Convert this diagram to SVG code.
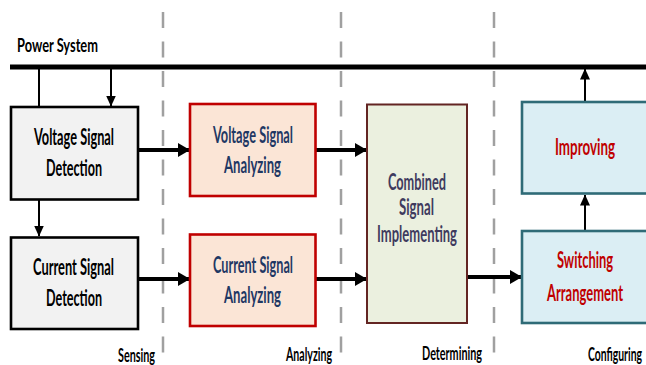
<svg xmlns="http://www.w3.org/2000/svg" width="646" height="365" viewBox="0 0 646 365">
<style>
text{font-family:Lato,"Open Sans","Liberation Sans",sans-serif;font-weight:bold}
.t{font-size:22.5px}
.l{font-size:19px;fill:#000}
.dash{stroke:#a0a0a0;stroke-width:2.5;stroke-dasharray:16 13.5;fill:none}
.thick{stroke:#000;stroke-width:4;fill:none}
.thin{stroke:#000;stroke-width:2;fill:none}
.det rect{fill:#f2f2f2;stroke:#000;stroke-width:2.6}
.ana rect{fill:#fbe5d6;stroke:#c00000;stroke-width:2.6}
.ana text{fill:#1f3864}
.comb rect{fill:#ebf0df;stroke:#632523;stroke-width:2}
.comb text{fill:#3f3b5e}
.cfg rect{fill:#dbeef4;stroke:#2f6b77;stroke-width:2.6}
.cfg text{fill:#c00000}
</style>
<defs>
<marker id="ah" markerUnits="userSpaceOnUse" markerWidth="12" markerHeight="14" viewBox="0 0 12 14" refX="11" refY="7" orient="auto">
<path d="M0,0 L12,7 L0,14 z" fill="#000"/>
</marker>
<marker id="ahs" markerUnits="userSpaceOnUse" markerWidth="11" markerHeight="10" viewBox="0 0 11 10" refX="10.5" refY="5" orient="auto">
<path d="M0,0 L11,5 L0,10 z" fill="#000"/>
</marker>
</defs>

<g id="phase-dividers">
<line class="dash" x1="163" y1="12" x2="163" y2="365"/>
<line class="dash" x1="341" y1="12" x2="341" y2="365"/>
<line class="dash" x1="494" y1="12" x2="494" y2="365"/>
</g>

<g id="power-system">
<text class="l" x="17" y="52" textLength="81" lengthAdjust="spacingAndGlyphs">Power System</text>
<line x1="10" y1="67" x2="646" y2="67" stroke="#000" stroke-width="5"/>
</g>

<g id="connectors">
<line class="thin" x1="39" y1="67" x2="39" y2="106"/>
<line class="thin" x1="111" y1="67" x2="111" y2="106" marker-end="url(#ahs)"/>
<line class="thin" x1="39" y1="200" x2="39" y2="236" marker-end="url(#ahs)"/>
<line class="thick" x1="139" y1="150" x2="189" y2="150" marker-end="url(#ah)"/>
<line class="thick" x1="139" y1="279" x2="189" y2="279" marker-end="url(#ah)"/>
<line class="thick" x1="316" y1="150" x2="366" y2="150" marker-end="url(#ah)"/>
<line class="thick" x1="316" y1="279" x2="366" y2="279" marker-end="url(#ah)"/>
<line class="thick" x1="468" y1="277" x2="521" y2="277" marker-end="url(#ah)"/>
<line class="thin" x1="585" y1="230" x2="585" y2="195" marker-end="url(#ahs)"/>
<line class="thin" x1="585" y1="101" x2="585" y2="69" marker-end="url(#ahs)"/>
</g>

<g id="voltage-signal-detection" class="det">
<rect x="11" y="107" width="127" height="92.5"/>
<text class="t" x="34" y="145" textLength="80" lengthAdjust="spacingAndGlyphs">Voltage Signal</text>
<text class="t" x="46" y="176" textLength="56" lengthAdjust="spacingAndGlyphs">Detection</text>
</g>

<g id="current-signal-detection" class="det">
<rect x="11" y="237.5" width="127" height="91.5"/>
<text class="t" x="33" y="275" textLength="81" lengthAdjust="spacingAndGlyphs">Current Signal</text>
<text class="t" x="46" y="306" textLength="56" lengthAdjust="spacingAndGlyphs">Detection</text>
</g>

<g id="voltage-signal-analyzing" class="ana">
<rect x="190" y="104" width="125.5" height="92"/>
<text class="t" x="213" y="143" textLength="80" lengthAdjust="spacingAndGlyphs">Voltage Signal</text>
<text class="t" x="224" y="173" textLength="57" lengthAdjust="spacingAndGlyphs">Analyzing</text>
</g>

<g id="current-signal-analyzing" class="ana">
<rect x="190" y="234.5" width="125.5" height="91.5"/>
<text class="t" x="213" y="273" textLength="80" lengthAdjust="spacingAndGlyphs">Current Signal</text>
<text class="t" x="224" y="303" textLength="57" lengthAdjust="spacingAndGlyphs">Analyzing</text>
</g>

<g id="combined-signal-implementing" class="comb">
<rect x="367" y="104.5" width="100" height="218.5"/>
<text class="t" x="388" y="190" textLength="58" lengthAdjust="spacingAndGlyphs">Combined</text>
<text class="t" x="399" y="215" textLength="35" lengthAdjust="spacingAndGlyphs">Signal</text>
<text class="t" x="377" y="242" textLength="80" lengthAdjust="spacingAndGlyphs">Implementing</text>
</g>

<g id="improving" class="cfg">
<rect x="522" y="102" width="126" height="91.5"/>
<text class="t" x="555" y="155" textLength="60" lengthAdjust="spacingAndGlyphs">Improving</text>
</g>

<g id="switching-arrangement" class="cfg">
<rect x="522" y="231" width="126" height="92"/>
<text class="t" x="557" y="268" textLength="56" lengthAdjust="spacingAndGlyphs">Switching</text>
<text class="t" x="547" y="301" textLength="76" lengthAdjust="spacingAndGlyphs">Arrangement</text>
</g>

<g id="phase-labels">
<text class="l" x="118" y="362" textLength="37" lengthAdjust="spacingAndGlyphs">Sensing</text>
<text class="l" x="286" y="361" textLength="46" lengthAdjust="spacingAndGlyphs">Analyzing</text>
<text class="l" x="422" y="360" textLength="60" lengthAdjust="spacingAndGlyphs">Determining</text>
<text class="l" x="588" y="361" textLength="54" lengthAdjust="spacingAndGlyphs">Configuring</text>
</g>
</svg>
